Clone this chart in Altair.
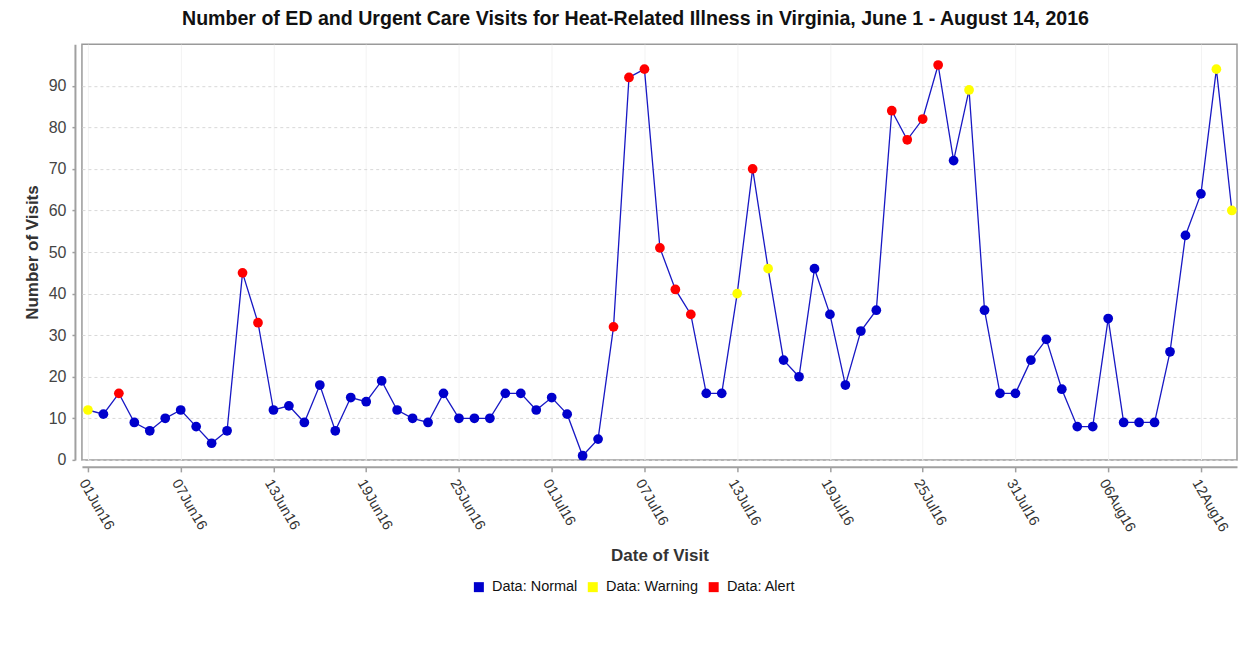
import altair as alt
import pandas as pd

start_date = "2016-06-01"
visits = [12, 11, 16, 9, 7, 10, 12, 8, 4, 7,
          45, 33, 12, 13, 9, 18, 7, 15, 14, 19,
          12, 10, 9, 16, 10, 10, 10, 16, 16, 12,
          15, 11, 1, 5, 32, 92, 94, 51, 41, 35,
          16, 16, 40, 70, 46, 24, 20, 46, 35, 18,
          31, 36, 84, 77, 82, 95, 72, 89, 36, 16,
          16, 24, 29, 17, 8, 8, 34, 9, 9, 9,
          26, 54, 64, 94, 60]
status = ["Warning", "Normal", "Alert", "Normal", "Normal", "Normal", "Normal", "Normal", "Normal", "Normal",
          "Alert", "Alert", "Normal", "Normal", "Normal", "Normal", "Normal", "Normal", "Normal", "Normal",
          "Normal", "Normal", "Normal", "Normal", "Normal", "Normal", "Normal", "Normal", "Normal", "Normal",
          "Normal", "Normal", "Normal", "Normal", "Alert", "Alert", "Alert", "Alert", "Alert", "Alert",
          "Normal", "Normal", "Warning", "Alert", "Warning", "Normal", "Normal", "Normal", "Normal", "Normal",
          "Normal", "Normal", "Alert", "Alert", "Alert", "Alert", "Normal", "Warning", "Normal", "Normal",
          "Normal", "Normal", "Normal", "Normal", "Normal", "Normal", "Normal", "Normal", "Normal", "Normal",
          "Normal", "Normal", "Normal", "Warning", "Warning"]
legend_labels = ["Data: Normal", "Data: Warning", "Data: Alert"]
legend_colors = ["#0000CC", "#FFFF00", "#FF0000"]
tick_dates = [(2016, 6, 1), (2016, 6, 7), (2016, 6, 13), (2016, 6, 19), (2016, 6, 25),
              (2016, 7, 1), (2016, 7, 7), (2016, 7, 13), (2016, 7, 19), (2016, 7, 25),
              (2016, 7, 31), (2016, 8, 6), (2016, 8, 12)]
y_ticks = [0, 10, 20, 30, 40, 50, 60, 70, 80, 90]

dates = pd.date_range(start_date, periods=len(visits), freq="D")
df = pd.DataFrame({
    "date": dates.strftime("%Y-%m-%dT00:00:00Z"),
    "visits": visits,
    "status": ["Data: " + s for s in status],
})

FONT = "Liberation Sans"

x_enc = alt.X(
    "date:T",
    scale=alt.Scale(type="utc",
                    domain=[alt.DateTime(year=2016, month=5, date=31, hours=14, minutes=40, utc=True),
                            alt.DateTime(year=2016, month=8, date=14, hours=8, utc=True)]),
    axis=alt.Axis(
        title="Date of Visit",
        values=[alt.DateTime(year=y, month=m, date=d, utc=True) for (y, m, d) in tick_dates],
        format="%d%b%y",
        labelAngle=60, labelAlign="left", labelBaseline="top",
        labelPadding=5, offset=7, tickSize=5, titlePadding=14,
        labelFontSize=14.5, labelColor="#333",
        gridColor="#f3f3f3", gridDash=[],
    ),
)
y_enc = alt.Y(
    "visits:Q",
    scale=alt.Scale(domain=[0, 100], nice=False),
    axis=alt.Axis(title="Number of Visits", values=y_ticks, offset=7, tickSize=3,
                  labelPadding=6, titlePadding=7, labelFontSize=16, labelColor="#444",
                  gridDash=[3, 3], gridColor="#d8d8d8"),
)

line = alt.Chart(df).mark_line(color="#1818C4", strokeWidth=1.3).encode(x=x_enc, y=y_enc)
points = alt.Chart(df).mark_circle(size=95, opacity=1).encode(
    x=x_enc, y=y_enc,
    color=alt.Color("status:N",
                    scale=alt.Scale(domain=legend_labels, range=legend_colors),
                    legend=alt.Legend(title=None, orient="none", direction="horizontal",
                                      legendX=390, legendY=536, symbolType="square",
                                      symbolSize=100, labelFontSize=14.5, columnPadding=8,
                                      labelOffset=6, symbolStrokeWidth=0, labelFont=FONT,
                                      labelColor="#111", symbolOffset=0)),
)

chart = (line + points).properties(
    width=1156, height=416,
    autosize=alt.AutoSizeParams(type="none"),
    padding={"left": 74, "top": 36, "right": 4, "bottom": 150},
    title=alt.Title(
        "Number of ED and Urgent Care Visits for Heat-Related Illness in Virginia, June 1 - August 14, 2016",
        fontSize=19.6, font=FONT, fontWeight="bold", color="#111", anchor="middle", dx=-24, offset=15,
    ),
).configure_view(stroke="#9a9a9a", strokeWidth=1.5).configure_axis(
    labelFont=FONT,
    titleFont=FONT, titleFontSize=17, titleFontWeight="bold", titleColor="#333",
    domainColor="#a0a0a0", domainWidth=2, tickColor="#a0a0a0", tickWidth=1.5,
)

chart.save("out.html", embed_options={"renderer": "svg", "actions": False})
